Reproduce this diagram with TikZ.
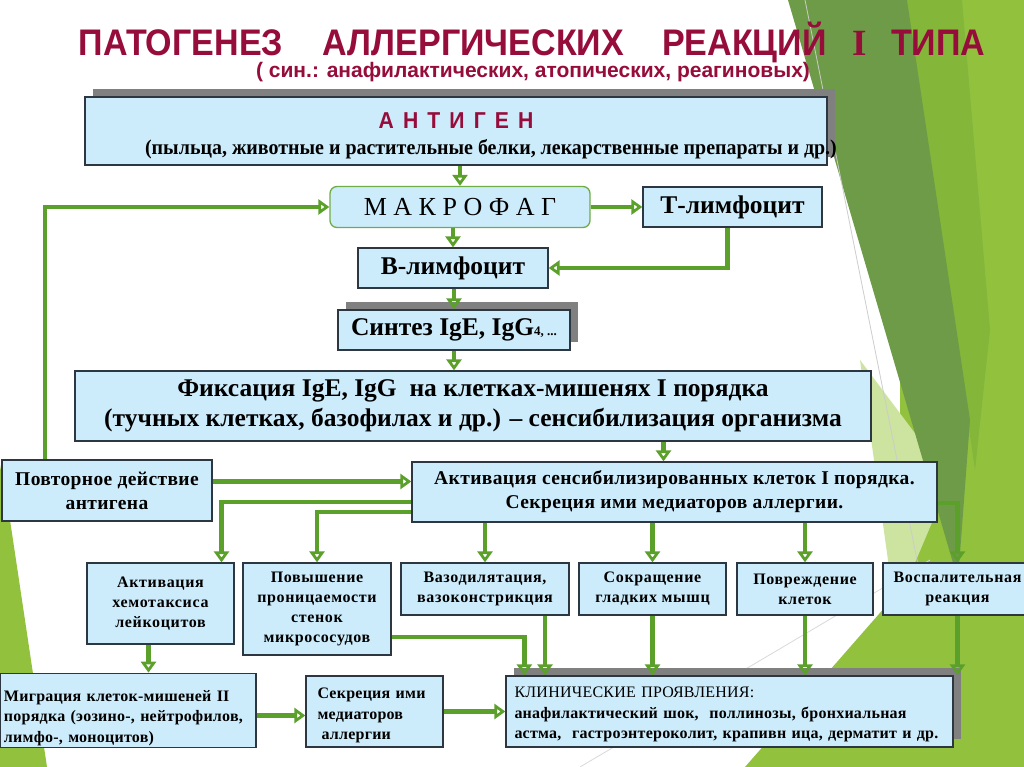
\documentclass[tikz,border=0pt]{standalone}
\usepackage{fontspec}
\setmainfont{Liberation Serif}
\setsansfont{Liberation Sans}
\newfontfamily\headfont[FakeStretch=0.92]{Liberation Sans}
\newfontfamily\narrowfont[FakeStretch=0.95]{Liberation Serif}
\newfontfamily\midfont[LetterSpace=2]{Liberation Serif}
\newfontfamily\spacedfont[LetterSpace=4]{Liberation Serif}
\newfontfamily\lightfont[LetterSpace=1.5]{Liberation Serif}
\usetikzlibrary{arrows.meta,calc,positioning,shadows}
\definecolor{boxblue}{RGB}{205,236,251}
\definecolor{boxline}{RGB}{45,55,65}
\definecolor{arrgreen}{RGB}{92,160,44}
\definecolor{macgreen}{RGB}{112,173,71}
\definecolor{titlered}{RGB}{150,12,58}
\definecolor{shgray}{RGB}{128,128,128}
\definecolor{limegreen}{RGB}{146,193,62}
\definecolor{limedark}{RGB}{132,182,58}
\definecolor{darkleaf}{RGB}{110,155,72}
\definecolor{paleleaf}{RGB}{205,228,160}
\tikzset{
	box/.style={draw=boxline,line width=1.3pt,fill=boxblue,inner sep=2pt,align=center,font=\bfseries\fontsize{25.5}{30}\selectfont},
	midbox/.style={box,font=\midfont\bfseries\fontsize{19.5}{24}\selectfont},
	smallbox/.style={box,font=\spacedfont\bfseries\fontsize{16}{20}\selectfont},
	textbox/.style={box,font=\lightfont\bfseries\fontsize{16}{20.5}\selectfont,align=left},
	shadowbox/.style={drop shadow={shadow xshift=8pt,shadow yshift=8pt,fill=shgray,opacity=1}},
	garrow/.style={draw=arrgreen,line width=4.5pt,-{Triangle[open,length=11pt,width=15pt,line width=3.5pt]}},
}
\begin{document}
\begin{tikzpicture}[x=1pt,y=-1pt]
	\useasboundingbox (0,0) rectangle (1024,767);
	\clip (0,0) rectangle (1024,767);
	\fill[white] (0,0) rectangle (1024,767);
	\fill[limegreen] (0,465) -- (10,520) -- (47,767) -- (0,767) -- cycle;
	\fill[limegreen] (900,0) -- (1024,0) -- (1024,767) -- (745,767) -- (900,590) -- cycle;
	\fill[limedark] (907,0) -- (962,0) -- (990,330) -- (975,470) -- cycle;
	\fill[paleleaf] (860,360) -- (950,480) -- (895,610) -- cycle;
	\fill[darkleaf] (788,0) -- (907,0) -- (970,420) -- (958,580) -- cycle;
	\draw[gray!40,line width=0.8pt] (805,0) -- (925,600);
	\draw[gray!30,line width=0.8pt] (580,767) -- (930,560);

	\node (title) at (532,42) [inner sep=0pt,font=\headfont\bfseries\fontsize{37}{40}\selectfont,text=titlered] {ПАТОГЕНЕЗ\hspace{40pt}АЛЛЕРГИЧЕСКИХ\hspace{38pt}РЕАКЦИЙ\hspace{26pt}{\rmfamily I}\hspace{24pt}ТИПА};
	\node (subtitle) at (533,72) [inner sep=0pt,font=\sffamily\bfseries\fontsize{21}{24}\selectfont,text=titlered] {( син.: анафилактических, атопических, реагиновых)};

	\node (antigen) at (456,131) [box,shadowbox,minimum width=742pt,minimum height=68pt,font=\bfseries\fontsize{21}{26}\selectfont] {\rule{0pt}{26pt}{\headfont\addfontfeature{LetterSpace=14}\color{titlered}\fontsize{23}{26}\selectfont А Н Т И Г Е Н}\\{\narrowfont\hspace*{35pt}(пыльца, животные и растительные белки, лекарственные препараты и др.)\hspace*{-35pt}}};
	\node (makrofag) at (460,207) [box,draw=macgreen,rounded corners=7pt,minimum width=260pt,minimum height=41pt,font=\fontsize{26}{28}\selectfont] {М А К Р О Ф А Г};
	\node (tlymph) at (732.5,207) [box,minimum width=179pt,minimum height=40pt] {Т-лимфоцит};
	\node (blymph) at (453,268) [box,minimum width=190pt,minimum height=40pt] {В-лимфоцит};
	\node (sintez) at (454,330) [box,shadowbox,minimum width=232pt,minimum height=40pt] {Синтез IgE, IgG{\fontsize{13}{15}\selectfont 4, ...}};
	\node (fiks) at (473,406) [box,minimum width=796pt,minimum height=70pt] {Фиксация IgE, IgG\ \ на клетках-мишенях I порядка\\(тучных клетках, базофилах и др.) – сенсибилизация организма};

	\node (povt) at (107,490.5) [midbox,minimum width=210pt,minimum height=61pt] {Повторное действие\\антигена};
	\node (akt) at (674.5,492) [midbox,minimum width=525pt,minimum height=60pt] {Активация сенсибилизированных клеток I порядка.\\Секреция ими медиаторов аллергии.};

	\node (hemo) at (160.5,603.5) [smallbox,minimum width=147pt,minimum height=81pt] {Активация\\хемотаксиса\\лейкоцитов};
	\node (pron) at (317,609) [smallbox,minimum width=148pt,minimum height=92pt] {Повышение\\проницаемости\\стенок\\микрососудов};
	\node (vazo) at (485,589) [smallbox,minimum width=168pt,minimum height=52pt] {Вазодилятация,\\вазоконстрикция};
	\node (sokr) at (652.5,589) [smallbox,minimum width=147pt,minimum height=52pt] {Сокращение\\гладких мышц};
	\node (povr) at (805,589) [smallbox,minimum width=136pt,minimum height=52pt] {Повреждение\\клеток};
	\node (vosp) at (957.5,589) [smallbox,minimum width=149pt,minimum height=52pt] {Воспалительная\\реакция};

	\node (migr) at (128,710.5) [textbox,minimum width=256pt,minimum height=73pt,text width=248pt] {\rule{0pt}{26pt}Миграция клеток-мишеней II\\порядка (эозино-, нейтрофилов,\\лимфо-, моноцитов)};
	\node (sekr) at (374.5,711.5) [textbox,minimum width=137pt,minimum height=71pt,text width=114pt] {\rule{0pt}{19pt}Секреция ими\\медиаторов\\\hspace{4pt}аллергии};
	\node (klin) at (729.5,711.5) [textbox,shadowbox,minimum width=447pt,minimum height=71pt,text width=430pt] {\rule{0pt}{17pt}{\mdseries КЛИНИЧЕСКИЕ ПРОЯВЛЕНИЯ:}\\анафилактический шок,\ \ поллинозы, бронхиальная\\астма,\ \ гастроэнтероколит, крапивн ица, дерматит и др.};

	\coordinate (povtup) at ([xshift=-62pt]povt.north);
	\coordinate (povtout) at ([yshift=9pt]povt.east);
	\coordinate (tdown) at ([xshift=-5pt]tlymph.south);
	\coordinate (fiksdown) at ([xshift=-11pt]akt.north);
	\coordinate (aktl1) at ([yshift=-10pt]akt.west);
	\coordinate (aktl2) at ([yshift=-20pt]akt.west);
	\coordinate (aktr) at ([yshift=-11pt]akt.east);
	\coordinate (hemoin) at ([xshift=61pt]hemo.north);
	\coordinate (hemodown) at ([xshift=-12pt]hemo.south);
	\coordinate (pronr) at ([yshift=-28pt]pron.east);
	\coordinate (klinin) at ([xshift=19pt]klin.north west);
	\coordinate (vazodown) at ([xshift=60pt]vazo.south);
	\coordinate (migrr) at ([yshift=-5pt]migr.east);

	\draw[garrow] (makrofag.north |- antigen.south) -- (makrofag.north);
	\draw[garrow] (makrofag.east) -- (tlymph.west);
	\draw[garrow] (tdown) |- (blymph.east);
	\draw[garrow] (blymph.north |- makrofag.south) -- (blymph.north);
	\draw[garrow] (sintez.north |- blymph.south) -- (sintez.north);
	\draw[garrow] (sintez.south) -- (sintez.south |- fiks.north);
	\draw[garrow] (fiksdown |- fiks.south) -- (fiksdown);
	\draw[garrow] (povtup) |- (makrofag.west);
	\draw[garrow] (povtout) -- (povtout -| akt.west);
	\draw[garrow] (aktl1) -| (hemoin);
	\draw[garrow] (aktl2) -| (pron.north);
	\foreach \b in {vazo,sokr,povr}
		\draw[garrow] (\b.north |- akt.south) -- (\b.north);
	\draw[garrow] (aktr) -| (vosp.north);
	\draw[garrow] (hemodown) -- (hemodown |- migr.north);
	\draw[garrow] (pronr) -| (klinin);
	\draw[garrow] (vazodown) -- (vazodown |- klin.north);
	\foreach \b in {sokr,povr,vosp}
		\draw[garrow] (\b.south) -- (\b.south |- klin.north);
	\draw[garrow] (migrr) -- (migrr -| sekr.west);
	\draw[garrow] (sekr.east) -- (sekr.east -| klin.west);
\end{tikzpicture}
\end{document}
